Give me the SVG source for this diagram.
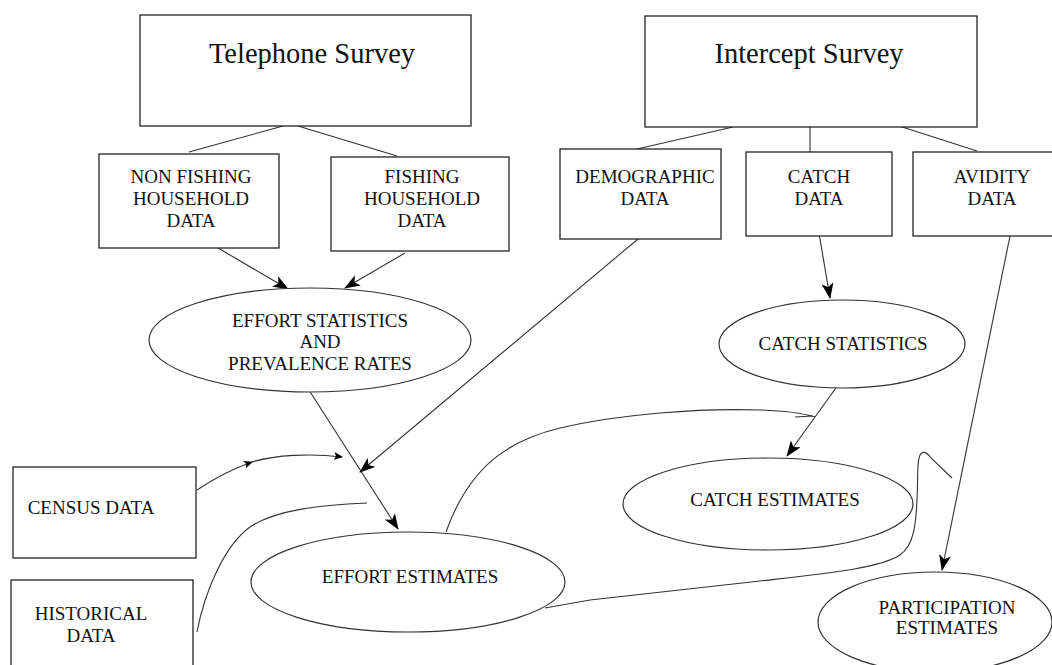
<svg xmlns="http://www.w3.org/2000/svg" width="1052" height="665" viewBox="0 0 1052 665">
<style>
.box{fill:#fff;stroke:#222;stroke-width:1.3}
.ell{fill:#fff;stroke:#333;stroke-width:1.2}
.t{font-family:"Liberation Serif","Times New Roman",serif;font-size:19px;fill:#111;text-anchor:middle}
.title{font-size:28.5px}
.ln{fill:none;stroke:#333;stroke-width:1.1}
.arr{marker-end:url(#big)}
.sarr{marker-end:url(#small)}
</style>
<defs>
<marker id="big" viewBox="0 0 16 12" refX="15" refY="6" markerWidth="16" markerHeight="12" markerUnits="userSpaceOnUse" orient="auto">
<path d="M0,0 L16,6 L0,12 L4,6 Z" fill="#000"/>
</marker>
<marker id="small" viewBox="0 0 9 8" refX="8" refY="4" markerWidth="9" markerHeight="8" markerUnits="userSpaceOnUse" orient="auto">
<path d="M0,0 L9,4 L0,8 L2,4 Z" fill="#000"/>
</marker>
</defs>
<rect width="1052" height="665" fill="#fff"/>
<g id="connectors">
<path class="ln" d="M283,126 L189,152"/>
<path class="ln" d="M298,126 L397,156"/>
<path class="ln" d="M733,127 L637,149"/>
<path class="ln" d="M810,127 L810,152"/>
<path class="ln" d="M896,125 L977,151"/>
<path class="ln arr" d="M218,248 L288,289"/>
<path class="ln arr" d="M405,253 L345,288"/>
<path class="ln arr" d="M307,387 L398,529"/>
<path class="ln arr" d="M638,239 L360,472"/>
<path class="ln arr" d="M819,233 L830,298"/>
<path class="ln arr" d="M838,385 L787,456"/>
<path class="ln arr" d="M1011,231 L942,570"/>
<path class="ln sarr" d="M197,490 C215,478 235,468 252,462"/>
<path class="ln sarr" d="M252,462 C275,455 310,453 342,457"/>
<path class="ln" d="M367,503 C320,505 275,510 250,527 C225,545 205,590 197,632"/>
<path class="ln" d="M446,532 C470,465 510,440 560,428 C620,414 700,408 760,410 C790,411 805,414 815,417 M795,417 L813,416"/>
<path class="ln" d="M545,608 L590,600 L760,581 C830,573 880,568 900,555 C915,545 916,520 917,500 C918,480 917,465 919,458 C921,450 926,451 931,458 L952,478"/>
</g>
<g id="telephone"><rect class="box" x="140" y="15" width="331" height="111"/><text class="t title" x="312" y="63">Telephone Survey</text></g>
<g id="intercept"><rect class="box" x="645" y="16" width="332" height="111"/><text class="t title" x="809" y="63">Intercept Survey</text></g>
<g id="nonfishing"><rect class="box" x="99" y="154" width="180" height="94"/><text class="t" x="191" y="183">NON FISHING</text><text class="t" x="191" y="205">HOUSEHOLD</text><text class="t" x="191" y="227">DATA</text></g>
<g id="fishing"><rect class="box" x="331" y="157" width="178" height="94"/><text class="t" x="422" y="183">FISHING</text><text class="t" x="422" y="205">HOUSEHOLD</text><text class="t" x="422" y="227">DATA</text></g>
<g id="demographic"><rect class="box" x="560" y="149" width="161" height="90"/><text class="t" x="645" y="183">DEMOGRAPHIC</text><text class="t" x="645" y="205">DATA</text></g>
<g id="catchdata"><rect class="box" x="746" y="152" width="146" height="84"/><text class="t" x="819" y="183">CATCH</text><text class="t" x="819" y="205">DATA</text></g>
<g id="avidity"><rect class="box" x="913" y="152" width="141" height="84"/><text class="t" x="992" y="183">AVIDITY</text><text class="t" x="992" y="205">DATA</text></g>
<g id="effortstats"><ellipse class="ell" cx="310" cy="340" rx="161" ry="52"/><text class="t" x="320" y="327">EFFORT STATISTICS</text><text class="t" x="320" y="348">AND</text><text class="t" x="320" y="370">PREVALENCE RATES</text></g>
<g id="catchstats"><ellipse class="ell" cx="842" cy="344" rx="123" ry="44"/><text class="t" x="843" y="350">CATCH STATISTICS</text></g>
<g id="catchest"><ellipse class="ell" cx="768" cy="504" rx="145" ry="46"/><text class="t" x="775" y="506">CATCH ESTIMATES</text></g>
<g id="census"><rect class="box" x="13" y="467" width="183" height="91"/><text class="t" x="91" y="514">CENSUS DATA</text></g>
<g id="historical"><rect class="box" x="11" y="580" width="182" height="90"/><text class="t" x="91" y="620">HISTORICAL</text><text class="t" x="91" y="642">DATA</text></g>
<g id="effortest"><ellipse class="ell" cx="408" cy="582" rx="157" ry="50"/><text class="t" x="410" y="583">EFFORT ESTIMATES</text></g>
<g id="participation"><ellipse class="ell" cx="935" cy="622" rx="117" ry="50"/><text class="t" x="947" y="614">PARTICIPATION</text><text class="t" x="947" y="634">ESTIMATES</text></g>
</svg>
